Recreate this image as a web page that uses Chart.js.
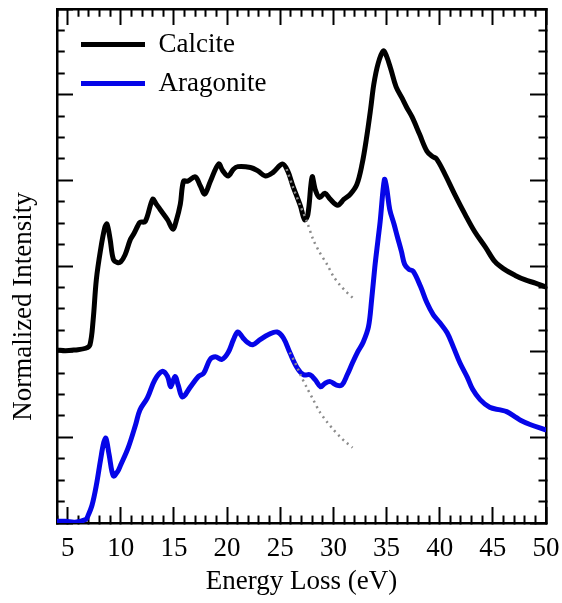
<!DOCTYPE html>
<html><head><meta charset="utf-8">
<script src="https://cdn.jsdelivr.net/npm/chart.js@4/dist/chart.umd.min.js"></script>
<style>html,body{margin:0;padding:0;background:#fff;}canvas{display:block;}</style>
</head><body>
<canvas id="c" width="562" height="603"></canvas>
<script>
// ---- data (energy loss in eV, normalized intensity, offset curves) ----
const calciteE = [4.0,4.8,5.7,6.7,7.1,7.4,7.7,8.1,8.5,8.7,9.0,9.3,9.7,10.0,10.4,10.9,11.2,11.6,11.8,12.3,13.0,13.3,13.7,14.4,14.9,15.2,15.6,15.9,16.3,17.0,17.5,17.9,18.4,19.2,19.6,20.1,20.6,21.0,22.2,22.9,23.6,24.3,25.2,25.7,26.2,26.9,27.3,27.6,28.0,28.3,28.7,29.2,29.7,30.4,31.0,31.6,32.2,32.7,33.1,33.5,33.8,34.2,34.7,35.0,35.4,35.9,36.5,36.9,37.4,38.1,38.8,39.3,39.7,40.5,41.4,42.4,43.3,44.3,45.2,46.1,47.1,48.0,49.0,49.9];
const calciteI = [2.02,2.01,2.02,2.04,2.08,2.37,2.84,3.19,3.45,3.49,3.31,3.08,3.04,3.05,3.13,3.31,3.37,3.47,3.51,3.52,3.78,3.73,3.66,3.54,3.43,3.52,3.72,3.99,3.99,4.04,3.93,3.84,3.98,4.19,4.11,4.05,4.13,4.16,4.15,4.11,4.05,4.09,4.19,4.11,3.93,3.70,3.54,3.60,4.04,3.89,3.80,3.85,3.78,3.71,3.78,3.84,3.95,4.19,4.48,4.83,5.12,5.36,5.51,5.45,5.30,5.09,4.95,4.85,4.74,4.54,4.34,4.28,4.25,4.07,3.84,3.60,3.40,3.22,3.05,2.96,2.89,2.84,2.80,2.76];
const aragoniteE = [4.0,4.8,5.7,6.7,6.9,7.3,7.7,8.1,8.4,8.6,8.9,9.3,9.7,10.0,10.7,11.4,11.8,12.5,13.2,13.9,14.4,14.7,15.1,15.4,15.8,16.5,17.3,17.8,18.4,18.9,19.5,20.1,20.6,21.0,21.5,21.9,22.4,23.1,23.9,24.7,25.3,25.9,26.6,27.2,27.8,28.3,28.8,29.2,29.7,30.3,30.8,31.3,31.8,32.3,32.8,33.3,33.6,33.9,34.2,34.4,34.8,35.0,35.3,35.7,36.0,36.4,36.7,37.1,37.5,38.2,38.8,39.4,40.0,40.7,41.3,41.9,42.6,43.1,43.8,44.7,45.7,46.3,47.1,47.6,48.5,49.9];
const aragoniteI = [0.02,0.02,0.01,0.04,0.08,0.21,0.44,0.74,0.94,0.99,0.80,0.55,0.60,0.68,0.88,1.15,1.32,1.46,1.67,1.77,1.71,1.59,1.71,1.61,1.47,1.58,1.71,1.75,1.91,1.94,1.91,1.99,2.14,2.23,2.16,2.11,2.08,2.14,2.20,2.23,2.16,1.99,1.81,1.73,1.73,1.67,1.59,1.63,1.65,1.61,1.61,1.73,1.87,2.00,2.11,2.29,2.61,2.99,3.31,3.52,4.01,3.92,3.66,3.49,3.35,3.17,3.02,2.96,2.94,2.76,2.57,2.43,2.34,2.22,2.05,1.87,1.70,1.56,1.44,1.35,1.32,1.30,1.24,1.20,1.15,1.09];
// dotted background extrapolations
const calciteBgE = [25.6,26.2,26.9,27.5,28.1,28.7,29.4,30.0,30.6,31.2,31.8];
const calciteBgI = [4.13,3.92,3.70,3.52,3.31,3.16,3.02,2.88,2.78,2.70,2.63];
const aragoniteBgE = [25.9,26.4,26.9,27.5,28.1,28.7,29.4,30.0,30.6,31.2,31.8];
const aragoniteBgI = [1.99,1.87,1.73,1.58,1.44,1.30,1.18,1.09,1.01,0.94,0.88];
// axes
const xTickLabels = [5,10,15,20,25,30,35,40,45,50];
const xRange = [4, 50];
const yRange = [0, 6];

const pts = (xs, ys) => xs.map((x, i) => ({x: x, y: ys[i]}));
const FONT = {family: "'Liberation Serif', 'Times New Roman', serif", size: 27};

const xMajor = v => xTickLabels.includes(v);
const yMajor = v => Math.abs(v - Math.round(v)) < 1e-6;
const dashOut = [9, 100];              // bottom/right: tick drawn from the axis inward
const dashIn = [0, 8.25, 9, 100];      // top/left: tick drawn from inside toward the axis

function axisGrid(isMajor, dash) {
  return {
    drawOnChartArea: false, drawTicks: true, tickLength: -16,
    color: '#000', tickColor: '#000', tickWidth: 2,
    tickBorderDash: ctx => (ctx.tick && isMajor(ctx.tick.value)) ? [] : dash
  };
}
const border = {display: true, color: '#000', width: 2.5};
function fixSize(prop, size) {
  return s => { s[prop] = size; s.paddingLeft = 0; s.paddingRight = 0; s.paddingTop = 0; s.paddingBottom = 0; };
}

const legendPlace = {
  id: 'legendPlace',
  afterLayout(chart) {
    const lg = chart.legend, ca = chart.chartArea;
    if (!lg) return;
    lg.left = ca.left + 12;
    lg.top = ca.top + 10;
  }
};

new Chart(document.getElementById('c'), {
  type: 'line',
  data: {
    datasets: [
      {label: 'Calcite', data: pts(calciteE, calciteI), borderColor: '#000000', backgroundColor: '#000000',
       borderWidth: 5, pointRadius: 0, tension: 0.35, fill: false, order: 2, borderJoinStyle: 'round', borderCapStyle: 'round'},
      {label: 'Aragonite', data: pts(aragoniteE, aragoniteI), borderColor: '#0505e8', backgroundColor: '#0505e8',
       borderWidth: 5, pointRadius: 0, tension: 0.35, fill: false, order: 2, borderJoinStyle: 'round', borderCapStyle: 'round'},
      {label: 'Calcite background', data: pts(calciteBgE, calciteBgI), borderColor: '#8c8c8c',
       borderWidth: 2.5, borderDash: [2, 4], pointRadius: 0, tension: 0.3, fill: false, order: 1},
      {label: 'Aragonite background', data: pts(aragoniteBgE, aragoniteBgI), borderColor: '#8c8c8c',
       borderWidth: 2.5, borderDash: [2, 4], pointRadius: 0, tension: 0.3, fill: false, order: 1}
    ]
  },
  options: {
    responsive: false, animation: false, devicePixelRatio: 1,
    layout: {padding: 0, autoPadding: false},
    plugins: {
      tooltip: {enabled: false},
      legend: {
        position: 'chartArea', align: 'start',
        labels: {
          font: FONT, color: '#000', boxWidth: 64, boxHeight: 5, padding: 12,
          filter: item => item.datasetIndex < 2,
          generateLabels: chart => Chart.defaults.plugins.legend.labels.generateLabels(chart)
            .map(l => Object.assign({}, l, {fillStyle: l.strokeStyle, lineWidth: 0}))
        }
      }
    },
    scales: {
      x: {
        type: 'linear', position: 'bottom', min: xRange[0], max: xRange[1],
        ticks: {stepSize: 1, autoSkip: false, maxTicksLimit: 100, maxRotation: 0, padding: 26,
                font: FONT, color: '#000', callback: v => xMajor(v) ? String(v) : ''},
        grid: axisGrid(xMajor, dashOut), border: border,
        title: {display: true, text: 'Energy Loss (eV)', font: FONT, color: '#000', padding: {top: 0, bottom: 5}},
        afterFit: fixSize('height', 80)
      },
      x2: {
        type: 'linear', position: 'top', min: xRange[0], max: xRange[1],
        ticks: {stepSize: 1, autoSkip: false, maxTicksLimit: 100, maxRotation: 0, padding: 0, callback: () => ''},
        grid: axisGrid(xMajor, dashIn), border: border,
        afterFit: fixSize('height', 9)
      },
      y: {
        type: 'linear', position: 'left', min: yRange[0], max: yRange[1],
        ticks: {stepSize: 0.25, autoSkip: false, maxTicksLimit: 100, padding: 0, callback: () => ''},
        grid: axisGrid(yMajor, dashIn), border: border,
        title: {display: true, text: 'Normalized Intensity' + '\u00a0'.repeat(12), font: FONT, color: '#000', padding: {top: 8, bottom: 0}},
        afterFit: fixSize('width', 57)
      },
      y2: {
        type: 'linear', position: 'right', min: yRange[0], max: yRange[1],
        ticks: {stepSize: 0.25, autoSkip: false, maxTicksLimit: 100, padding: 0, callback: () => ''},
        grid: axisGrid(yMajor, dashOut), border: border,
        afterFit: fixSize('width', 16)
      }
    }
  },
  plugins: [legendPlace]
});
</script>
</body></html>
